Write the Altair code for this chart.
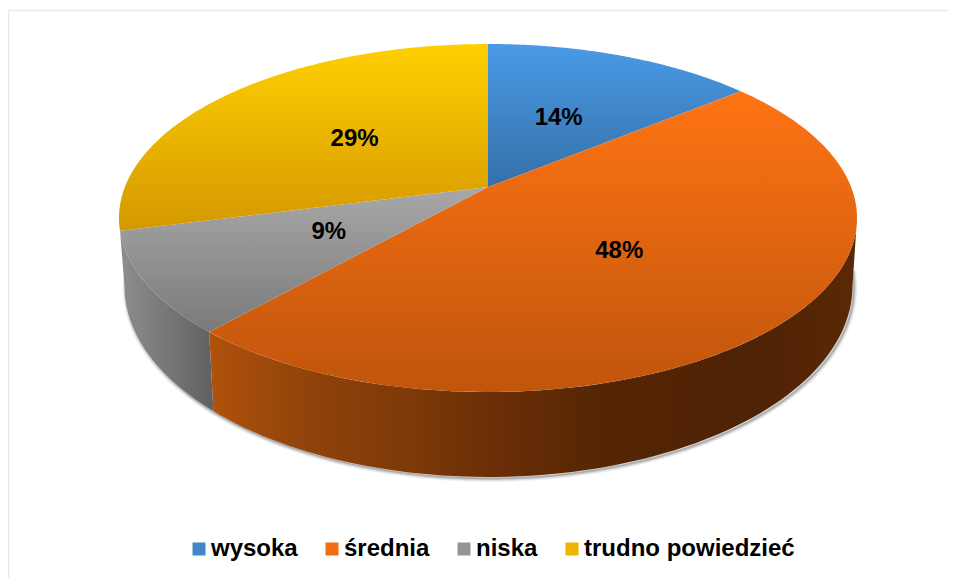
import math
import altair as alt
import pandas as pd

# ---- chart values ----
categories = ["wysoka", "średnia", "niska", "trudno powiedzieć"]
shares = [14.1, 47.5, 9.4, 29.0]
labels = ["14%", "48%", "9%", "29%"]
legend_colors = ["#4186cb", "#f26c12", "#949494", "#ecb400"]
top_stops = [("#4a9ae6", "#3470a8"), ("#ff7414", "#c0550c"), ("#a8a8a8", "#7a7a7a"), ("#ffd000", "#d49800")]

# ---- 3D pie geometry (in page pixels) ----
CX, CY, RX, RY = 488.0, 218.0, 369.0, 174.0      # top ellipse
BCX, BCY, BRX, BRY = 488.5, 286.0, 364.0, 191.0  # bottom ellipse
TILT = 0.178                                     # perspective shift of the pie centre


def project(theta_deg, r=1.0):
    """Real pie angle -> position in the unit disc after perspective."""
    th = math.radians(theta_deg)
    X, Y = r * math.sin(th), r * math.cos(th)
    d = 1 + TILT * Y
    return X * math.sqrt(1 - TILT ** 2) / d, (Y + TILT) / d


def top_xy(theta_deg, r=1.0):
    u, v = project(theta_deg, r)
    return CX + RX * u, CY - RY * v


def t_of(theta_deg):
    u, v = project(theta_deg)
    return math.degrees(math.atan2(u, v)) % 360


def ell_top(t):
    a = math.radians(t)
    return CX + RX * math.sin(a), CY - RY * math.cos(a)


def ell_bot(t):
    a = math.radians(t)
    return BCX + BRX * math.sin(a), BCY - BRY * math.cos(a)


def samples(a, b, n=80):
    return [a + (b - a) * i / n for i in range(n + 1)]


def frame(points):
    return pd.DataFrame({"x": [p[0] for p in points], "y": [p[1] for p in points], "i": range(len(points))})


# cumulative pie angles
edges = [0.0]
for s in shares:
    edges.append(edges[-1] + s * 3.6)

X_SCALE = alt.Scale(domain=[8, 948], range=[0, 940], nice=False, zero=False)
Y_SCALE = alt.Scale(domain=[8, 578], range=[0, 570], nice=False, zero=False)
XE = alt.X("x:Q", scale=X_SCALE, axis=None)
YE = alt.Y("y:Q", scale=Y_SCALE, axis=None)


def vgrad(c0, c1):
    return alt.Gradient(gradient="linear", x1=0, x2=0, y1=0, y2=1,
                        stops=[alt.GradientStop(offset=0, color=c0), alt.GradientStop(offset=1, color=c1)])


def hgrad(stops):
    return alt.Gradient(gradient="linear", x1=0, x2=1, y1=0, y2=0,
                        stops=[alt.GradientStop(offset=o, color=c) for o, c in stops])


def polygon(points, fill):
    return alt.Chart(frame(points)).mark_line(
        fill=fill, stroke="transparent", strokeWidth=0, interpolate="linear-closed", clip=False
    ).encode(x=XE, y=YE, order=alt.Order("i:Q"))


layers = []

# soft shadow below the bottom rim
shadow_pts = [(ell_bot(t)[0] + 1.5, ell_bot(t)[1] + 1.5) for t in samples(85, 275, 160)]
for w, op in [(7, 0.05), (5, 0.07), (3, 0.10), (1.5, 0.14)]:
    layers.append(
        alt.Chart(frame(shadow_pts)).mark_line(color="#000000", strokeWidth=w, opacity=op)
        .encode(x=XE, y=YE, order=alt.Order("i:Q"))
    )

# rim walls
t_split = t_of(edges[2])
t_end = t_of(edges[3])
orange_side = [ell_top(t) for t in samples(90, t_split)] + [ell_bot(t) for t in samples(t_split, 90)]
gray_side = [ell_top(t) for t in samples(t_split, t_end, 30)] + [ell_bot(t) for t in samples(270, t_split, 30)]
layers.append(polygon(orange_side, hgrad([(0, "#b0520c"), (0.15, "#90430a"), (0.30, "#7f3a08"),
                                          (0.43, "#6c2f06"), (0.60, "#562604"), (0.83, "#4e2205"),
                                          (1, "#5a2906")])))
layers.append(polygon(gray_side, hgrad([(0, "#8e8e8e"), (1, "#606060")])))

# top wedges
apex = top_xy(0, 0.0)
for k in range(len(categories)):
    arc = [top_xy(a) for a in samples(edges[k], edges[k + 1], 120)]
    layers.append(polygon([apex] + arc, vgrad(*top_stops[k])))

# percentage labels
mids = [(edges[k] + edges[k + 1]) / 2 for k in range(len(categories))]
lab = pd.DataFrame({
    "x": [top_xy(m, 0.49)[0] for m in mids],
    "y": [top_xy(m, 0.49)[1] for m in mids],
    "t": labels,
})
layers.append(
    alt.Chart(lab).mark_text(font="Liberation Sans", fontWeight="bold", fontSize=24, color="#000000",
                             align="center", baseline="middle")
    .encode(x=XE, y=YE, text="t:N")
)

# frame of the picture
border = pd.DataFrame({"x": [8.5, 8.5, 948], "y": [578, 10.5, 10.5], "i": [0, 1, 2]})
layers.append(
    alt.Chart(border).mark_line(color="#e3e7ef", strokeWidth=1.5).encode(x=XE, y=YE, order=alt.Order("i:Q"))
)

# legend
leg = pd.DataFrame({"c": categories, "x": [CX] * 4, "y": [CY] * 4})
layers.append(
    alt.Chart(leg).mark_point(filled=True, size=0, opacity=1).encode(
        x=XE, y=YE,
        color=alt.Color(
            "c:N",
            scale=alt.Scale(domain=categories, range=legend_colors),
            legend=alt.Legend(
                title=None, orient="none", legendX=179, legendY=529, direction="horizontal", columns=4,
                symbolType="square", symbolSize=169, symbolStrokeWidth=0, symbolOpacity=1,
                labelFont="Liberation Sans", labelFontWeight="bold", labelFontSize=24, labelColor="#000000",
                labelOffset=0, columnPadding=22, labelLimit=400,
            ),
        ),
    )
)

chart = alt.layer(*layers).properties(
    width=940, height=570, padding=0, background="#ffffff",
    autosize=alt.AutoSizeParams(type="none"),
).configure_view(stroke=None)

chart.save("out.html", embed_options={"renderer": "svg", "actions": False})
